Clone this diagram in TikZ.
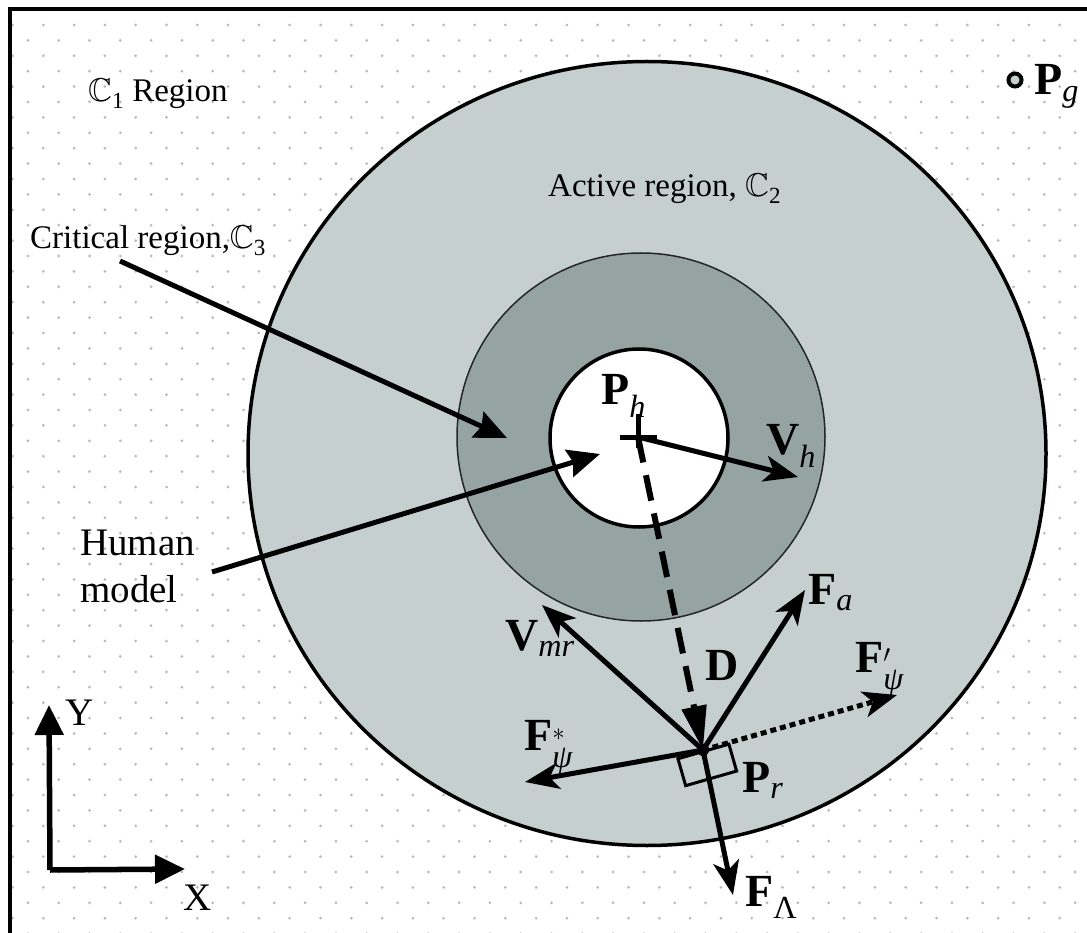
\documentclass[tikz,border=0pt]{standalone}
\usepackage{amsmath}
\usepackage{amssymb}
\usepackage{fontspec}
\setmainfont{Liberation Serif}
\usetikzlibrary{arrows.meta}
\definecolor{outerfill}{RGB}{198,207,207}
\definecolor{midfill}{RGB}{150,163,163}
\definecolor{dotgray}{RGB}{185,185,185}
\newcommand{\vlab}[2]{\textbf{#1}$_{\text{\normalfont\itshape #2}}$}
\begin{document}
\begin{tikzpicture}[x=1pt,y=-1pt,
  vec/.style={line width=5pt, -{Stealth[length=34pt,width=26pt,inset=9pt]}},
  tri/.style={line width=5pt, -{Stealth[length=32pt,width=28pt,inset=4pt]}},
  axis/.style={line width=5.5pt, -{Triangle[length=30pt,width=28pt]}},
  lbl/.style={font=\fontsize{46}{46}\selectfont, inner sep=0, anchor=base west},
  txt/.style={font=\fontsize{33}{36}\selectfont, inner sep=0, anchor=base west},
  big/.style={font=\fontsize{39}{44}\selectfont, inner sep=0, anchor=base west}]
\useasboundingbox (0,0) rectangle (1087,933);
\clip (0,0) rectangle (1087,933);
\fill[white] (0,0) rectangle (1087,933);
% dot pattern
\foreach \j in {-1,...,61}{
  \foreach \i in {-1,...,35}{
    \fill[dotgray] ({43.3-15.4*mod(\j+2,2)+30.8*\i},{25+15.4*\j}) circle (1.5);
  }
}
% frame
\draw[line width=3.5pt] (10,1000) -- (10,9) -- (1100,9);
% regions
\filldraw[fill=outerfill, line width=3.5pt] (647,453.5) ellipse [x radius=399, y radius=392];
\filldraw[fill=midfill, draw=black!85, line width=1.5pt] (641,437) circle (184);
\filldraw[fill=white, line width=3.5pt] (639,438) circle (89);
% key points
\coordinate (Ph) at (638,437);
\coordinate (Pr) at (703,750);
% texts
\node[txt] (c1) at (88,102) {$\mathbb{C}_{\text{1}}$ Region};
\node[txt] (c2) at (548,197) {Active region, $\mathbb{C}_{\text{2}}$};
\node[txt] (c3) at (30,249) {Critical region,$\mathbb{C}_{\text{3}}$};
\node[big] (hm1) at (80,555) {Human};
\node[big] (hm2) at (80,602) {model};
% pointers
\coordinate (c3s) at (120,261);
\coordinate (c3t) at (507,438);
\draw[tri] (c3s) -- (c3t);
\coordinate (hms) at (212,572);
\coordinate (hmt) at (600,454);
\draw[tri] (hms) -- (hmt);
% human
\draw[line width=5pt] (620,437) -- (657,437) (638,414) -- (638,448);
\node[lbl] (phl) at (601,404) {\vlab{P}{h}};
\coordinate (Vh) at (798,477);
\draw[vec] (Ph) -- (Vh);
\node[lbl] (vhl) at (766,454) {\vlab{V}{h}};
% distance
\draw[line width=6pt, dash pattern=on 26pt off 13pt, -{Triangle[length=44pt,width=24pt]}] (Ph) -- (Pr);
\node[lbl] (dl) at (705,680) {\textbf{D}};
% robot
\node[draw, line width=3pt, minimum width=53pt, minimum height=28pt, inner sep=0, rotate=16, anchor=north] (body) at (Pr) {};
\coordinate (Vmr) at (542,605);
\coordinate (Fa) at (805,590);
\coordinate (Fp) at (897,695);
\coordinate (Fs) at (525,782);
\coordinate (FL) at (733,895);
\draw[vec] (Pr) -- (Vmr);
\draw[vec] (Pr) -- (Fa);
\draw[vec] (Pr) -- (Fs);
\draw[vec] (Pr) -- (FL);
\draw[line width=5pt, dash pattern=on 6pt off 4pt, -{Stealth[length=34pt,width=26pt,inset=9pt]}] (Pr) -- (Fp);
\fill (Pr) circle (6);
\node[lbl] (vmrl) at (505,650) {\vlab{V}{mr}};
\node[lbl] (fal) at (808,604) {\vlab{F}{a}};
\node[lbl] (fpl) at (855,672) {\textbf{F}$^{\prime}_{\text{\normalfont\itshape ψ}}$};
\node[lbl] (fsl) at (524,750) {\textbf{F}$^{\ast}_{\text{\normalfont\itshape ψ}}$};
\node[lbl] (prl) at (742,792) {\vlab{P}{r}};
\node[lbl] (fll) at (745,906) {\textbf{F}$_{\text{\normalfont Λ}}$};
% goal
\filldraw[fill=outerfill, line width=4pt] (1015,80) circle (6.5);
\node[lbl] (pgl) at (1034,95) {\vlab{P}{g}};
% axes
\coordinate (O) at (50,870);
\coordinate (Yt) at (49,705);
\coordinate (Xt) at (185,869);
\draw[axis] (O) -- (Yt);
\draw[axis] (O) -- (Xt);
\node[big] (yl) at (65,725) {Y};
\node[big] (xl) at (183,910) {X};
\end{tikzpicture}
\end{document}
